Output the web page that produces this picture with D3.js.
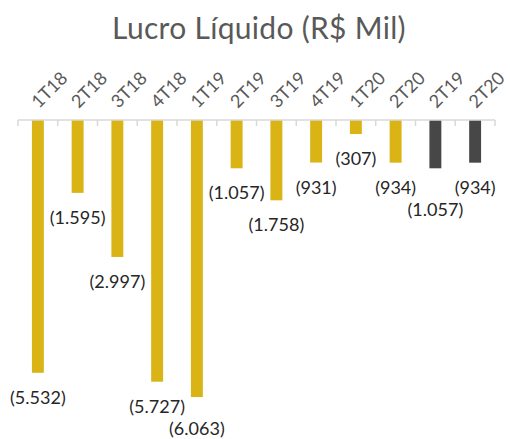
<!DOCTYPE html>
<html>
<head>
<meta charset="utf-8">
<script src="https://cdn.jsdelivr.net/npm/d3@7"></script>
<style>
	html, body { margin: 0; padding: 0; background: #fff; }
	svg { display: block; font-family: Lato, "Open Sans", sans-serif; }
</style>
</head>
<body>
<svg id="chart" width="510" height="439"></svg>
<script>
"use strict";

var categories = ["1T18", "2T18", "3T18", "4T18", "1T19", "2T19", "3T19", "4T19", "1T20", "2T20", "2T19", "2T20"];
var values = [-5532, -1595, -2997, -5727, -6063, -1057, -1758, -931, -307, -934, -1057, -934];
var isSummary = [false, false, false, false, false, false, false, false, false, false, true, true];
var title = "Lucro Líquido (R$ Mil)";

var gold = "#d9b414";
var dark = "#474747";

var svg = d3.select("#chart");
var axisY = 120;

var pt = d3.formatLocale({ decimal: ",", thousands: ".", grouping: [3], currency: ["R$", ""] });
var fmt = pt.format(",d");

var x = d3.scaleBand()
	.domain(d3.range(categories.length))
	.range([18, 495])
	.paddingInner(0.7)
	.paddingOuter(0.35);

var y = d3.scaleLinear()
	.domain([-6500, 0])
	.range([417, axisY]);

// title
svg.append("text")
	.attr("x", 259)
	.attr("y", 39)
	.attr("text-anchor", "middle")
	.attr("fill", "#595959")
	.style("font-size", "30px")
	.style("letter-spacing", "0.3px")
	.text(title);

// bars
svg.append("g").selectAll("rect")
	.data(values)
	.enter().append("rect")
		.attr("x", function(d, i) { return x(i); })
		.attr("width", x.bandwidth())
		.attr("y", y(0))
		.attr("height", function(d) { return y(d) - y(0); })
		.attr("fill", function(d, i) { return isSummary[i] ? dark : gold; });

// category axis (ticks on band edges, pointing down)
var step = x.step();
var x0 = x.range()[0];
var axis = svg.append("g");
axis.append("line")
	.attr("x1", x0).attr("x2", x.range()[1])
	.attr("y1", axisY).attr("y2", axisY)
	.attr("stroke", "#d9d9d9").attr("stroke-width", 1.5);
axis.selectAll("line.tick")
	.data(d3.range(categories.length + 1))
	.enter().append("line")
		.attr("class", "tick")
		.attr("x1", function(i) { return x0 + i * step; })
		.attr("x2", function(i) { return x0 + i * step; })
		.attr("y1", axisY).attr("y2", axisY + 6)
		.attr("stroke", "#d9d9d9").attr("stroke-width", 1.5);

axis.selectAll("text")
	.data(categories)
	.enter().append("text")
		.attr("transform", function(d, i) {
			var cx = x(i) + x.bandwidth() / 2;
			return "translate(" + (cx + 1) + "," + (axisY - 11) + ") rotate(-45)";
		})
		.attr("fill", "#595959")
		.style("font-size", "18px")
		.text(function(d) { return d; });

// data labels, pushed down when they would collide with a neighbour
var labelH = 20;
var placed = [];
var labels = svg.append("g").selectAll("text")
	.data(values)
	.enter().append("text")
		.attr("text-anchor", "middle")
		.attr("dominant-baseline", "central")
		.attr("fill", "#262626")
		.style("font-size", "18px")
		.text(function(d) { return "(" + fmt(Math.abs(d)) + ")"; });

labels.each(function(d, i) {
	var cx = x(i) + x.bandwidth() / 2;
	var w = this.getComputedTextLength();
	var cy = y(d) + 24;
	[placed[i - 1], placed[i - 2]].forEach(function(p) {
		if (!p) return;
		var overlapX = Math.abs(p.cx - cx) < (p.w + w) / 2;
		var overlapY = Math.abs(p.cy - cy) < labelH;
		if (overlapX && overlapY) cy = p.cy + labelH + 2;
	});
	placed[i] = { cx: cx, cy: cy, w: w };
	d3.select(this).attr("x", cx).attr("y", cy);
});
</script>
</body>
</html>
